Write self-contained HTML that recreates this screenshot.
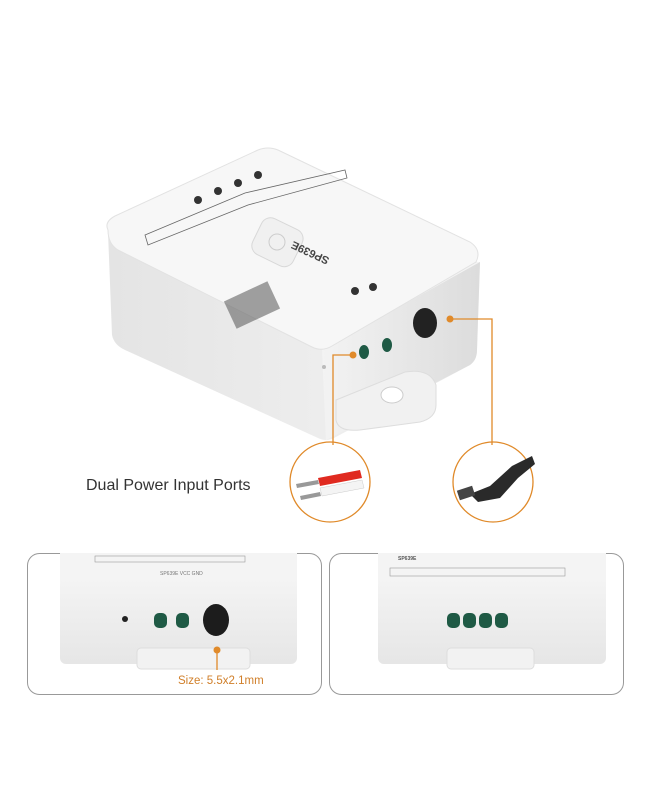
<!DOCTYPE html>
<html><head><meta charset="utf-8"><style>
body{margin:0;background:#fff;width:650px;height:800px;overflow:hidden;font-family:"Liberation Sans",sans-serif}
</style></head><body>
<svg width="650" height="800" viewBox="0 0 650 800" xmlns="http://www.w3.org/2000/svg">
<defs>
<linearGradient id="lf" x1="0" y1="0" x2="1" y2="0"><stop offset="0" stop-color="#e4e4e4"/><stop offset="1" stop-color="#f4f4f4"/></linearGradient>
<linearGradient id="rf" x1="0" y1="0" x2="1" y2="0"><stop offset="0" stop-color="#f3f3f3"/><stop offset="1" stop-color="#dcdcdc"/></linearGradient>
<linearGradient id="ff" x1="0" y1="0" x2="0" y2="1"><stop offset="0" stop-color="#f4f4f4"/><stop offset="1" stop-color="#e6e6e6"/></linearGradient>
</defs>
<!-- main box -->
<path d="M108,232 L112,335 Q114,345 125,350 L318,438 Q326,442 334,438 L470,365 Q477,360 477,350 L480,262 Z" fill="url(#lf)"/>
<path d="M322,350 L326,440 L470,365 Q477,360 477,350 L480,262 Z" fill="url(#rf)"/>
<path d="M108,230 Q104,222 115,216 L258,150 Q268,146 278,150 L470,242 Q482,250 476,262 L332,346 Q322,352 312,347 L118,250 Q108,244 108,230 Z" fill="#f7f7f7" stroke="#e2e2e2"/>
<!-- top details -->
<rect x="255" y="222" width="45" height="40" rx="10" fill="#f0f0f0" stroke="#d8d8d8" transform="rotate(26 277 242)"/>
<circle cx="277" cy="242" r="8" fill="none" stroke="#ccc"/>
<g fill="#333"><circle cx="198" cy="200" r="4"/><circle cx="218" cy="191" r="4"/><circle cx="238" cy="183" r="4"/><circle cx="258" cy="175" r="4"/><circle cx="355" cy="291" r="4"/><circle cx="373" cy="287" r="4"/></g>
<path d="M145,235 L245,193 L345,170 L347,178 L248,205 L148,245 Z" fill="none" stroke="#666" stroke-width="0.8"/>
<text x="330" y="258" font-size="11" font-weight="bold" fill="#444" transform="rotate(-155 330 258)">SP639E</text>
<rect x="228" y="290" width="48" height="30" fill="#555" opacity="0.55" transform="rotate(-25 252 305)"/>
<!-- side ports -->
<ellipse cx="425" cy="323" rx="12" ry="15" fill="#222"/>
<ellipse cx="364" cy="352" rx="5" ry="7" fill="#1f5a45"/>
<ellipse cx="387" cy="345" rx="5" ry="7" fill="#1f5a45"/>
<circle cx="324" cy="367" r="2" fill="#bbb"/>
<!-- tab -->
<path d="M336,400 L405,372 Q430,368 436,385 L436,405 Q436,418 420,422 L360,430 Q338,432 336,420 Z" fill="#f1f1f1" stroke="#ddd"/>
<ellipse cx="392" cy="395" rx="11" ry="8" fill="#fff" stroke="#ccc"/>
<!-- connectors -->
<g stroke="#e08a2a" stroke-width="1.3" fill="none"><path d="M353,355 L333,355 L333,445"/><path d="M450,319 L492,319 L492,445"/><circle cx="330" cy="482" r="40"/><circle cx="493" cy="482" r="40"/></g>
<circle cx="353" cy="355" r="3.5" fill="#e08a2a"/><circle cx="450" cy="319" r="3.5" fill="#e08a2a"/>
<!-- wires -->
<path d="M318,478 L360,470 L362,478 L320,486 Z" fill="#e02a20"/>
<path d="M320,488 L362,480 L364,488 L322,496 Z" fill="#f4f4f4" stroke="#ccc" stroke-width="0.5"/>
<path d="M296,484 L318,480 L319,484 L297,488 Z" fill="#999"/>
<path d="M300,496 L320,492 L321,496 L301,500 Z" fill="#999"/>
<!-- dc plug -->
<path d="M470,494 L490,486 L512,466 L532,456 L535,464 L518,478 L500,498 L478,502 Z" fill="#2a2a2a"/>
<rect x="458" y="488" width="16" height="10" fill="#444" transform="rotate(-18 466 493)"/>
<text x="86" y="490" font-size="16" fill="#333">Dual Power Input Ports</text>
<!-- bottom panels -->
<rect x="27.5" y="553.5" width="294" height="141" rx="12" fill="none" stroke="#999"/>
<rect x="329.5" y="553.5" width="294" height="141" rx="12" fill="none" stroke="#999"/>
<!-- left panel box -->
<rect x="60" y="553" width="237" height="30" fill="#f4f4f4"/>
<rect x="60" y="578" width="237" height="86" rx="6" fill="url(#ff)"/>
<rect x="95" y="556" width="150" height="6" fill="none" stroke="#999" stroke-width="0.6"/>
<text x="160" y="575" font-size="5" fill="#777">SP639E VCC GND</text>
<circle cx="125" cy="619" r="3" fill="#222"/>
<rect x="154" y="613" width="13" height="15" rx="5" fill="#1f5a45"/><rect x="176" y="613" width="13" height="15" rx="5" fill="#1f5a45"/>
<ellipse cx="216" cy="620" rx="13" ry="16" fill="#1c1c1c"/>
<rect x="137" y="648" width="113" height="21" rx="4" fill="#f2f2f2" stroke="#ddd"/>
<line x1="217" y1="650" x2="217" y2="670" stroke="#e08a2a" stroke-width="1.3"/>
<circle cx="217" cy="650" r="3.5" fill="#e08a2a"/>
<text x="178" y="684" font-size="11.5" fill="#d07f2a">Size: 5.5x2.1mm</text>
<!-- right panel box -->
<rect x="378" y="553" width="228" height="30" fill="#f4f4f4"/>
<rect x="378" y="578" width="228" height="86" rx="6" fill="url(#ff)"/>
<rect x="390" y="568" width="175" height="8" fill="none" stroke="#999" stroke-width="0.6"/>
<text x="398" y="560" font-size="5" font-weight="bold" fill="#555">SP639E</text>
<g fill="#1f5a45"><rect x="447" y="613" width="13" height="15" rx="5"/><rect x="463" y="613" width="13" height="15" rx="5"/><rect x="479" y="613" width="13" height="15" rx="5"/><rect x="495" y="613" width="13" height="15" rx="5"/></g>
<rect x="447" y="648" width="87" height="21" rx="4" fill="#f2f2f2" stroke="#ddd"/>
</svg>
</body></html>
